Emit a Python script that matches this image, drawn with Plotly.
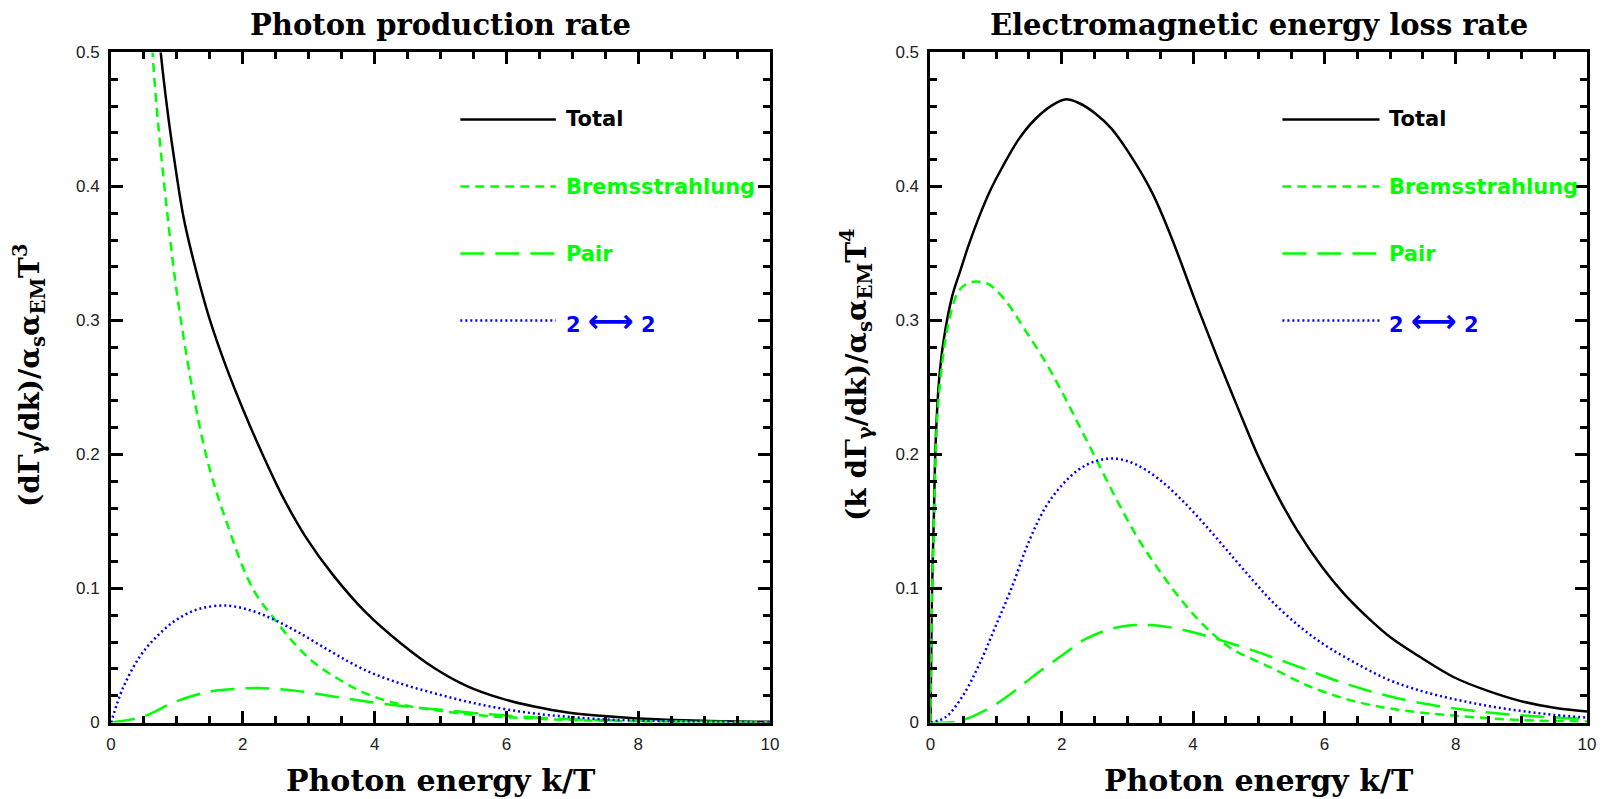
import plotly.graph_objects as go

# ---------------- data: left panel (dGamma/dk) ----------------
k_total_L = [0.5, 0.6, 0.73, 0.85, 0.96, 1.1, 1.24, 1.49, 1.75, 2.0, 2.3, 2.61, 2.96, 3.37, 3.87, 4.4, 4.91, 5.41, 5.92, 6.42, 6.93, 7.43, 8.0, 9.0, 10.0]
y_total_L = [0.69, 0.597, 0.512, 0.459, 0.42, 0.377, 0.347, 0.302, 0.265, 0.234, 0.2, 0.168, 0.138, 0.11, 0.082, 0.059, 0.0405, 0.027, 0.018, 0.012, 0.0075, 0.005, 0.003, 0.0013, 0.0005]

k_brems_L = [0.5, 0.63, 0.81, 1.06, 1.44, 1.75, 2.15, 2.5, 2.8, 3.1, 3.5, 3.9, 4.4, 4.95, 5.5, 6.0, 7.0, 8.0, 9.0, 10.0]
y_brems_L = [0.66, 0.5, 0.4, 0.3, 0.2, 0.15, 0.1, 0.076, 0.058, 0.044, 0.031, 0.021, 0.0135, 0.009, 0.0058, 0.004, 0.0018, 0.0008, 0.0004, 0.0002]

k_pair_L = [0.0, 0.48, 0.99, 1.49, 1.85, 2.25, 2.76, 3.37, 3.97, 4.48, 4.96, 5.5, 6.0, 7.0, 8.0, 9.0, 10.0]
y_pair_L = [0.0, 0.0043, 0.0158, 0.023, 0.025, 0.0257, 0.024, 0.0195, 0.015, 0.012, 0.0097, 0.0072, 0.0052, 0.0024, 0.0012, 0.0006, 0.0003]

k_22_L = [0.0, 0.18, 0.43, 0.68, 0.99, 1.34, 1.77, 2.15, 2.48, 2.86, 3.37, 3.87, 4.4, 4.91, 5.41, 5.92, 6.42, 6.93, 7.43, 8.0, 8.95, 10.0]
y_22_L = [0.0, 0.0257, 0.0487, 0.0635, 0.0766, 0.0849, 0.0872, 0.0832, 0.0766, 0.0668, 0.052, 0.0388, 0.029, 0.0218, 0.0155, 0.0105, 0.0068, 0.0043, 0.0025, 0.0015, 0.0005, 0.0003]

# ---------------- data: right panel (k dGamma/dk) ----------------
k_total_R = [0.0, 0.02, 0.05, 0.08, 0.13, 0.2, 0.33, 0.46, 0.58, 0.73, 0.91, 1.09, 1.34, 1.59, 1.85, 2.05, 2.25, 2.51, 2.76, 3.01, 3.37, 3.67, 4.03, 4.38, 4.68, 4.98, 5.29, 5.59, 5.95, 6.30, 6.71, 7.02, 7.47, 7.98, 8.49, 8.99, 9.50, 10.0]
y_total_R = [0.0, 0.09, 0.15, 0.21, 0.255, 0.285, 0.318, 0.338, 0.356, 0.376, 0.397, 0.414, 0.435, 0.45, 0.4605, 0.465, 0.4625, 0.4545, 0.443, 0.426, 0.396, 0.362, 0.315, 0.271, 0.235, 0.2, 0.169, 0.143, 0.117, 0.096, 0.076, 0.063, 0.0485, 0.0336, 0.0236, 0.016, 0.011, 0.0082]

k_brems_R = [0.0, 0.02, 0.05, 0.1, 0.18, 0.28, 0.43, 0.58, 0.73, 0.89, 1.14, 1.44, 1.75, 2.0, 2.25, 2.56, 2.86, 3.16, 3.47, 3.82, 4.18, 4.58, 4.99, 5.19, 5.70, 6.2, 6.71, 7.22, 7.73, 8.23, 9.0, 10.0]
y_brems_R = [0.0, 0.085, 0.145, 0.225, 0.269, 0.299, 0.322, 0.328, 0.329, 0.327, 0.315, 0.293, 0.269, 0.247, 0.223, 0.193, 0.164, 0.1375, 0.1145, 0.0914, 0.0717, 0.0553, 0.0454, 0.041, 0.0285, 0.0195, 0.013, 0.0089, 0.0062, 0.0042, 0.0018, 0.0007]

k_pair_R = [0.0, 0.43, 0.84, 1.24, 1.59, 2.0, 2.35, 2.76, 3.11, 3.37, 3.77, 4.18, 4.58, 4.99, 5.19, 5.70, 6.2, 6.71, 7.22, 7.73, 8.23, 8.74, 9.25, 10.0]
y_pair_R = [0.0, 0.001, 0.0092, 0.022, 0.0355, 0.050, 0.062, 0.070, 0.0727, 0.0727, 0.070, 0.065, 0.059, 0.0525, 0.049, 0.040, 0.031, 0.0232, 0.017, 0.0124, 0.009, 0.0064, 0.0045, 0.0025]

k_22_R = [0.0, 0.23, 0.48, 0.73, 0.99, 1.24, 1.49, 1.75, 2.0, 2.25, 2.51, 2.81, 3.11, 3.47, 3.87, 4.28, 4.63, 4.93, 5.19, 5.59, 6.0, 6.46, 6.96, 7.47, 7.98, 8.49, 8.99, 9.5, 10.0]
y_22_R = [0.0, 0.004, 0.019, 0.042, 0.0717, 0.101, 0.134, 0.1605, 0.177, 0.1885, 0.195, 0.197, 0.193, 0.182, 0.164, 0.142, 0.122, 0.105, 0.091, 0.073, 0.058, 0.0448, 0.0323, 0.0236, 0.0174, 0.0124, 0.0087, 0.0057, 0.0037]

series_names = ["Total", "Bremsstrahlung", "Pair", "2 <span style='font-size:32px'>\u27f7</span> 2"]
legend_y = [0.45, 0.40, 0.35, 0.30]
panel_titles = ["Photon production rate", "Electromagnetic energy loss rate"]
x_title = "Photon energy k/T"
y_titles = ["(d\u0393<sub>\u03b3</sub>/dk)/\u03b1<sub>s</sub>\u03b1<sub>EM</sub>T<sup>3</sup>",
            "(k d\u0393<sub>\u03b3</sub>/dk)/\u03b1<sub>s</sub>\u03b1<sub>EM</sub>T<sup>4</sup>"]
x_ticks = [0, 2, 4, 6, 8, 10]
y_ticks = [0, 0.1, 0.2, 0.3, 0.4, 0.5]
y_ticktext = ["0", "0.1", "0.2", "0.3", "0.4", "0.5"]

BLACK = "#000000"
GREEN = "#00FF00"
BLUE = "#0000FF"
styles = [
    dict(color=BLACK, width=2.5, dash="solid"),
    dict(color=GREEN, width=2.5, dash="9px,6px"),
    dict(color=GREEN, width=2.5, dash="24px,11px"),
    dict(color=BLUE, width=2.5, dash="2px,3px"),
]

panels = [
    ("x", "y", [(k_total_L, y_total_L), (k_brems_L, y_brems_L), (k_pair_L, y_pair_L), (k_22_L, y_22_L)]),
    ("x2", "y2", [(k_total_R, y_total_R), (k_brems_R, y_brems_R), (k_pair_R, y_pair_R), (k_22_R, y_22_R)]),
]

fig = go.Figure()
for xa, ya, data in panels:
    for (kx, ky), st, nm in zip(data, styles, series_names):
        fig.add_trace(go.Scatter(x=kx, y=ky, mode="lines", name=nm, xaxis=xa, yaxis=ya,
                                 line=dict(color=st["color"], width=st["width"], dash=st["dash"],
                                           shape="spline", smoothing=1.0),
                                 showlegend=False, hoverinfo="skip"))

# legend (drawn as short line samples + coloured labels)
legend_x = {"x": (5.30, 6.75, 6.87), "x2": (5.36, 6.84, 6.96)}
text_colors = [BLACK, GREEN, GREEN, BLUE]
for xa, ya, _ in panels:
    x0, x1, xt = legend_x[xa]
    for st, nm, ly, tc in zip(styles, series_names, legend_y, text_colors):
        fig.add_shape(type="line", xref=xa, yref=ya, x0=x0, x1=x1, y0=ly, y1=ly,
                      line=dict(color=st["color"], width=st["width"], dash=st["dash"]))
        fig.add_annotation(xref=xa, yref=ya, x=xt, y=ly, text="<b>" + nm + "</b>", showarrow=False,
                           xanchor="left", yanchor="middle",
                           font=dict(family="DejaVu Sans", size=21, color=tc))

dom_x = [(0.0688, 0.4771), (0.5765, 0.9833)]
dom_y = (0.0957, 0.9343)

axis_common = dict(showline=True, linecolor="black", linewidth=3, mirror="ticks",
                   ticks="inside", ticklen=12, tickwidth=2.5, tickcolor="black",
                   showgrid=False, zeroline=False, automargin=False,
                   tickfont=dict(family="Liberation Sans", size=17, color="#222222"))

layout = dict(width=1614, height=799, margin=dict(l=0, r=0, t=0, b=0),
              paper_bgcolor="white", plot_bgcolor="white", showlegend=False)
for i, (xa, ya, _) in enumerate(panels):
    xkey = "xaxis" if i == 0 else "xaxis2"
    ykey = "yaxis" if i == 0 else "yaxis2"
    layout[xkey] = dict(axis_common, range=[0, 10], domain=list(dom_x[i]), anchor=ya,
                        tickvals=x_ticks, ticktext=[str(v) for v in x_ticks], ticklabelstandoff=4,
                        minor=dict(ticks="inside", ticklen=7, tickwidth=2.5, tickcolor="black", dtick=0.5, tick0=0))
    layout[ykey] = dict(axis_common, range=[0, 0.5], domain=list(dom_y), anchor=xa,
                        tickvals=y_ticks, ticktext=y_ticktext, ticklabelstandoff=5,
                        minor=dict(ticks="inside", ticklen=7, tickwidth=2.5, tickcolor="black", dtick=0.02, tick0=0))
fig.update_layout(**layout)

title_font = dict(family="DejaVu Serif", size=29, color="black", weight="bold")
axis_title_font = dict(family="DejaVu Serif", size=30, color="black", weight="bold")
ytitle_font = dict(family="DejaVu Serif", size=28, color="black", weight="bold")
for i in range(2):
    cx = (dom_x[i][0] + dom_x[i][1]) / 2
    fig.add_annotation(xref="paper", yref="paper", x=cx, y=1 - 25 / 799, text=panel_titles[i],
                       showarrow=False, xanchor="center", yanchor="middle", font=title_font)
    fig.add_annotation(xref="paper", yref="paper", x=cx, y=1 - 780 / 799, text=x_title,
                       showarrow=False, xanchor="center", yanchor="middle", font=axis_title_font)
    yx = [29 / 1614, 856 / 1614][i]
    fig.add_annotation(xref="paper", yref="paper", x=yx, y=1 - 375 / 799, text=y_titles[i],
                       showarrow=False, xanchor="center", yanchor="middle", textangle=-90,
                       font=ytitle_font)

fig.write_html("out.html", config={"displayModeBar": False},
               post_script="document.body.style.margin='0px';")
